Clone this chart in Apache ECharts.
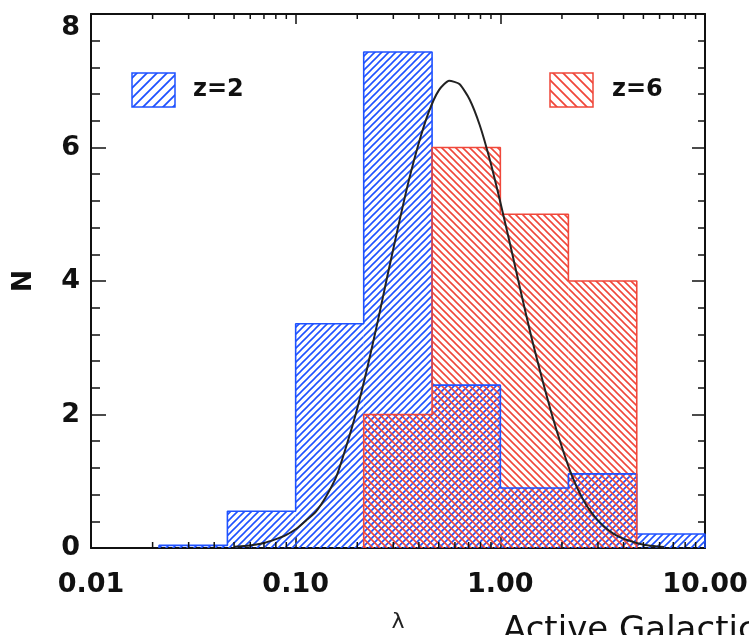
<!DOCTYPE html>
<html>
<head>
<meta charset="utf-8">
<script src="https://cdn.jsdelivr.net/npm/echarts@6/dist/echarts.min.js"></script>
<style>
html,body{margin:0;padding:0;background:#fff;}
#c{width:749px;height:635px;}
</style>
</head>
<body>
<div id="c"></div>
<script>
// ---- data ----
const binEdges = [0.0215, 0.0464, 0.1, 0.215, 0.464, 1.0, 2.15, 4.64, 10.0];
const z2Counts = [0.04, 0.55, 3.36, 7.43, 2.44, 0.90, 1.11, 0.21];
const z6Edges  = [0.215, 0.464, 1.0, 2.15, 4.64];
const z6Counts = [2.0, 6.0, 5.0, 4.0];
const curveLambda = [0.0501, 0.0562, 0.0631, 0.0708, 0.0794, 0.0891, 0.1000, 0.1122, 0.1259, 0.1413,
  0.1585, 0.1778, 0.1995, 0.2239, 0.2512, 0.2818, 0.3162, 0.3548, 0.3981, 0.4467,
  0.5012, 0.5623, 0.6310, 0.7079, 0.7943, 0.8913, 1.000, 1.122, 1.259, 1.413,
  1.585, 1.778, 1.995, 2.239, 2.512, 2.818, 3.162, 3.548, 3.981, 4.467,
  5.012, 5.623, 6.310];
const curveN = [0.02, 0.03, 0.05, 0.08, 0.13, 0.19, 0.28, 0.41, 0.55, 0.78,
  1.08, 1.55, 2.08, 2.70, 3.38, 4.10, 4.80, 5.47, 6.05, 6.53,
  6.86, 7.00, 6.95, 6.72, 6.33, 5.80, 5.18, 4.52, 3.84, 3.18,
  2.58, 2.02, 1.52, 1.08, 0.75, 0.51, 0.34, 0.22, 0.14, 0.09,
  0.05, 0.03, 0.015];
const xTickLabels = ['0.01', '0.10', '1.00', '10.00'];
const xMinorTicks = [0.02,0.03,0.04,0.05,0.06,0.07,0.08,0.09,0.2,0.3,0.4,0.5,0.6,0.7,0.8,0.9,2,3,4,5,6,7,8,9];
const yTickLabels = ['0', '2', '4', '6', '8'];
const legendNames = ['z=2', 'z=6'];

const BLUE = '#1f52ff';
const RED = '#f0473a';

function hatch(color, p, dir, lw) {
  const c = document.createElement('canvas');
  c.width = p; c.height = p;
  const g = c.getContext('2d');
  g.strokeStyle = color; g.lineWidth = lw;
  g.beginPath();
  if (dir > 0) {
    g.moveTo(0, p); g.lineTo(p, 0);
    g.moveTo(-p/2, p/2); g.lineTo(p/2, -p/2);
    g.moveTo(p/2, p*1.5); g.lineTo(p*1.5, p/2);
  } else {
    g.moveTo(0, 0); g.lineTo(p, p);
    g.moveTo(-p/2, p/2); g.lineTo(p/2, p*1.5);
    g.moveTo(p/2, -p/2); g.lineTo(p*1.5, p/2);
  }
  g.stroke();
  return c;
}
const bluePat = {image: hatch(BLUE, 7, 1, 1.6), repeat: 'repeat'};
const redPat = {image: hatch(RED, 7, -1, 1.6), repeat: 'repeat'};
const blueLegPat = {image: hatch(BLUE, 10, 1, 1.8), repeat: 'repeat'};
const redLegPat = {image: hatch(RED, 10, -1, 1.8), repeat: 'repeat'};

function bins(edges, counts) {
  return counts.map((v, i) => [edges[i], edges[i+1], v]);
}
function outline(edges, counts) {
  const pts = [[edges[0], 0]];
  counts.forEach((v, i) => { pts.push([edges[i], v]); pts.push([edges[i+1], v]); });
  pts.push([edges[edges.length-1], 0]);
  return pts;
}
function rectRender(pat) {
  return function (params, api) {
    const p0 = api.coord([api.value(0), 0]);
    const p1 = api.coord([api.value(1), api.value(2)]);
    return {
      type: 'rect',
      shape: {x: p0[0], y: p1[1], width: p1[0] - p0[0], height: p0[1] - p1[1]},
      style: {fill: pat, stroke: null}
    };
  };
}

const FONT = 'DejaVu Sans';
const labelStyle = {fontFamily: FONT, fontWeight: 'bold', fontSize: 27, color: '#111'};

const chart = echarts.init(document.getElementById('c'), null, {renderer: 'canvas'});
chart.setOption({
  animation: false,
  backgroundColor: '#fff',
  grid: {left: 91, right: 44, top: 14, bottom: 87, containLabel: false, outerBoundsMode: 'none'},
  xAxis: [{
    type: 'log', logBase: 10, min: 0.01, max: 10, position: 'bottom',
    name: 'λ', nameLocation: 'middle', nameGap: 63,
    nameTextStyle: {fontFamily: FONT, fontSize: 22, color: '#222'},
    axisLine: {show: true, onZero: false, lineStyle: {color: '#111', width: 2}},
    axisTick: {show: true, inside: true, length: 11, lineStyle: {color: '#111', width: 1.5}},
    axisLabel: {show: true, margin: 23, ...labelStyle,
      formatter: v => xTickLabels[Math.round(Math.log10(v)) + 2]},
    splitLine: {show: false}
  }, {
    type: 'log', logBase: 10, min: 0.01, max: 10, position: 'top',
    axisLine: {show: true, onZero: false, lineStyle: {color: '#111', width: 2}},
    axisTick: {show: true, inside: true, length: 10, lineStyle: {color: '#111', width: 1.5}},
    axisLabel: {show: false},
    splitLine: {show: false}
  }],
  yAxis: [{
    type: 'value', min: 0, max: 8, interval: 2, position: 'left',
    name: 'N', nameLocation: 'middle', nameGap: 54, nameRotate: 90,
    nameTextStyle: {fontFamily: FONT, fontWeight: 'bold', fontSize: 27, color: '#111'},
    axisLine: {show: true, onZero: false, lineStyle: {color: '#111', width: 2}},
    axisTick: {show: true, inside: true, length: 15, lineStyle: {color: '#111', width: 1.5}},
    minorTick: {show: true, splitNumber: 5, length: 9, lineStyle: {color: '#111', width: 1.5}},
    axisLabel: {show: true, margin: 11, ...labelStyle,
      verticalAlignMaxLabel: 'top',
      formatter: v => yTickLabels[v / 2]},
    splitLine: {show: false}
  }, {
    type: 'value', min: 0, max: 8, interval: 2, position: 'right',
    axisLine: {show: true, onZero: false, lineStyle: {color: '#111', width: 2}},
    axisTick: {show: true, inside: true, length: 13, lineStyle: {color: '#111', width: 1.5}},
    minorTick: {show: true, splitNumber: 5, length: 7, lineStyle: {color: '#111', width: 1.5}},
    axisLabel: {show: false},
    splitLine: {show: false}
  }],
  series: [
    {
      type: 'custom', name: 'z=2 fill', xAxisIndex: 0, yAxisIndex: 0, z: 1,
      renderItem: rectRender(bluePat), data: bins(binEdges, z2Counts), silent: true
    },
    {
      type: 'custom', name: 'z=6 fill', xAxisIndex: 0, yAxisIndex: 0, z: 2,
      renderItem: rectRender(redPat), data: bins(z6Edges, z6Counts), silent: true
    },
    {
      type: 'line', name: 'z=2', xAxisIndex: 0, yAxisIndex: 0, z: 3,
      data: outline(binEdges, z2Counts), showSymbol: false, symbol: 'none',
      lineStyle: {color: BLUE, width: 1.6}
    },
    {
      type: 'line', name: 'z=6', xAxisIndex: 0, yAxisIndex: 0, z: 4,
      data: outline(z6Edges, z6Counts), showSymbol: false, symbol: 'none',
      lineStyle: {color: RED, width: 1.6}
    },
    {
      type: 'line', name: 'fit', xAxisIndex: 0, yAxisIndex: 0, z: 5,
      data: curveLambda.map((x, i) => [x, curveN[i]]), smooth: 0.2,
      showSymbol: false, symbol: 'none',
      lineStyle: {color: '#222', width: 2}
    },
    {
      type: 'custom', name: 'minor ticks', xAxisIndex: 0, yAxisIndex: 0, z: 6, silent: true,
      data: xMinorTicks.map(v => [v, 0]),
      renderItem: function (params, api) {
        const x = api.coord([api.value(0), 0])[0];
        const cs = params.coordSys;
        const bot = cs.y + cs.height, top = cs.y;
        return {
          type: 'group',
          children: [
            {type: 'line', shape: {x1: x, y1: bot, x2: x, y2: bot - 6}, style: {stroke: '#111', lineWidth: 1.5}},
            {type: 'line', shape: {x1: x, y1: top, x2: x, y2: top + 5}, style: {stroke: '#111', lineWidth: 1.5}}
          ]
        };
      }
    }
  ],
  graphic: [
    {type: 'rect', shape: {x: 132, y: 73, width: 43, height: 34}, style: {fill: blueLegPat, stroke: BLUE, lineWidth: 1.5}, z: 10},
    {type: 'text', x: 193, y: 90, style: {text: legendNames[0], fontFamily: FONT, fontWeight: 'bold', fontSize: 24, fill: '#111', verticalAlign: 'middle'}, z: 10},
    {type: 'rect', shape: {x: 550, y: 73, width: 43, height: 34}, style: {fill: redLegPat, stroke: RED, lineWidth: 1.5}, z: 10},
    {type: 'text', x: 612, y: 90, style: {text: legendNames[1], fontFamily: FONT, fontWeight: 'bold', fontSize: 24, fill: '#111', verticalAlign: 'middle'}, z: 10},
    {type: 'text', x: 503, y: 614, style: {text: 'Active Galactic Nuclei', fontFamily: FONT, fontSize: 34, fill: '#111', verticalAlign: 'top'}, z: 10}
  ]
});
</script>
</body>
</html>
